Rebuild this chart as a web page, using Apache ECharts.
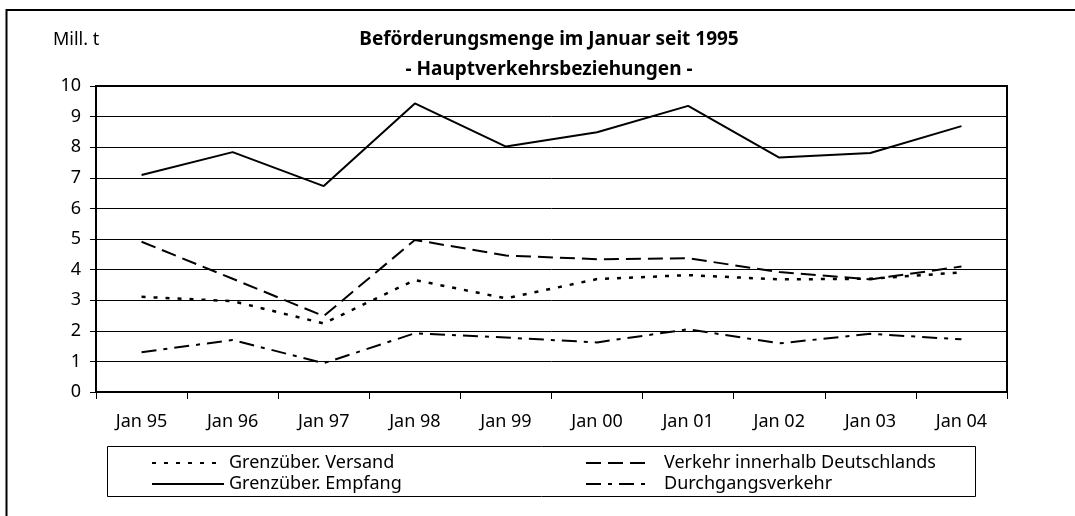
<!DOCTYPE html>
<html><head><meta charset="utf-8">
<script src="https://cdn.jsdelivr.net/npm/echarts@6/dist/echarts.min.js"></script>
<style>html,body{margin:0;padding:0;background:#fff}#c{width:1075px;height:516px}</style>
</head><body><div id="c"></div>
<script>
const categories = ['Jan 95','Jan 96','Jan 97','Jan 98','Jan 99','Jan 00','Jan 01','Jan 02','Jan 03','Jan 04'];
const versand   = [3.11, 2.97, 2.24, 3.66, 3.06, 3.69, 3.82, 3.68, 3.70, 3.91];
const innerhalb = [4.91, 3.70, 2.48, 4.97, 4.46, 4.34, 4.37, 3.92, 3.68, 4.10];
const empfang   = [7.09, 7.84, 6.73, 9.43, 8.02, 8.49, 9.35, 7.66, 7.81, 8.69];
const durchgang = [1.30, 1.70, 0.94, 1.92, 1.78, 1.62, 2.05, 1.59, 1.90, 1.72];
const seriesNames = ['Grenzüber. Versand','Verkehr innerhalb Deutschlands','Grenzüber. Empfang','Durchgangsverkehr'];
const titleLines = ['Beförderungsmenge im Januar seit 1995','- Hauptverkehrsbeziehungen -'];
const unitLabel = 'Mill. t';

const FONT = 'Noto Sans';
const chart = echarts.init(document.getElementById('c'), null, {renderer:'canvas'});

function mkSeries(name, data, dash, width){
  return {
    name, type:'line', data, symbol:'none', smooth:false,
    lineStyle:{color:'#000', width:width, type:dash, cap:'butt'},
    itemStyle:{color:'#000'},
    emphasis:{disabled:true}
  };
}
function mkLegend(name, left, top, w, pad){
  return {
    data:[name], left, top, padding:0, itemWidth:w, itemHeight:14,
    itemStyle:{color:'rgba(0,0,0,0)', borderWidth:0, opacity:0},
    textStyle:{fontFamily:FONT, fontSize:18, color:'#000', padding:[0,0,0,pad]},
    selectedMode:false
  };
}

chart.setOption({
  animation:false,
  backgroundColor:'#fff',
  title:{
    text: titleLines.join('\n'),
    left: 544, top: 20, textAlign:'center',
    textStyle:{fontFamily:FONT, fontSize:19, fontWeight:'bold', color:'#000', lineHeight:30}
  },
  grid:{left:96, right:68, top:86, bottom:124, show:true, borderColor:'#000', borderWidth:2, backgroundColor:'transparent'},
  xAxis:{
    type:'category', data:categories, boundaryGap:true,
    axisLine:{show:true, lineStyle:{color:'#000', width:2}},
    axisTick:{show:true, length:7, lineStyle:{color:'#000', width:1}},
    axisLabel:{fontFamily:FONT, fontSize:18, color:'#000', margin:21},
    splitLine:{show:false}
  },
  yAxis:{
    type:'value', min:0, max:10, interval:1,
    axisLine:{show:true, lineStyle:{color:'#000', width:2}},
    axisTick:{show:true, length:6, lineStyle:{color:'#000', width:1}},
    axisLabel:{fontFamily:FONT, fontSize:18, color:'#000', margin:15},
    splitLine:{show:true, lineStyle:{color:'#000', width:1}}
  },
  legend:[
    mkLegend(seriesNames[0], 151, 454, 72, 0),
    mkLegend(seriesNames[1], 585, 454, 65, 8),
    mkLegend(seriesNames[2], 151, 475, 72, 0),
    mkLegend(seriesNames[3], 585, 475, 65, 8)
  ],
  graphic:[
    {type:'polyline', shape:{points:[[6.5,600],[6.5,10],[1100,10]]}, style:{stroke:'#000', lineWidth:2, fill:null}, silent:true},
    {type:'rect', shape:{x:107.5, y:446.5, width:868, height:50}, style:{stroke:'#000', lineWidth:1, fill:null}, silent:true, z:-1},
    {type:'text', left:53, top:31, style:{text:unitLabel, font:'18px "Noto Sans"', fill:'#000'}, silent:true}
  ],
  series:[
    mkSeries(seriesNames[0], versand, [4,8], 2.5),
    mkSeries(seriesNames[1], innerhalb, [15,7], 2),
    mkSeries(seriesNames[2], empfang, 'solid', 2),
    mkSeries(seriesNames[3], durchgang, [15,7,4,7], 2)
  ]
});
</script></body></html>
